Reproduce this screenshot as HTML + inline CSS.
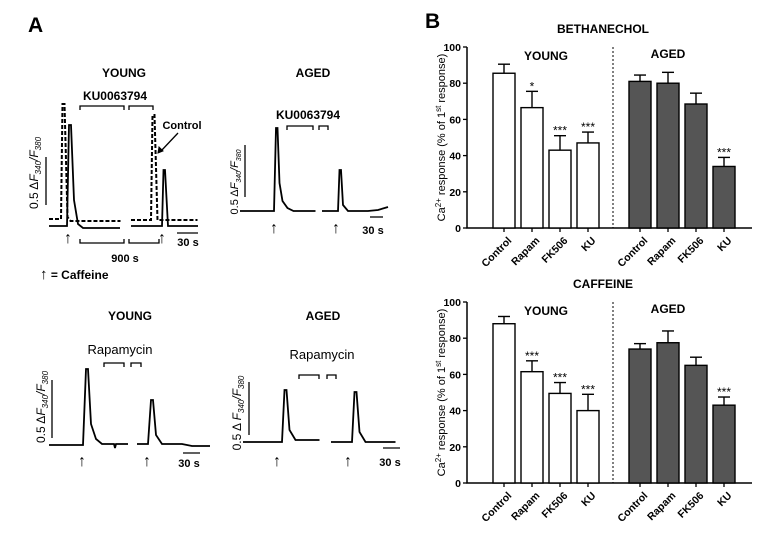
<!DOCTYPE html>
<html><head><meta charset="utf-8">
<style>
html,body{margin:0;padding:0;background:#fff;}
svg{display:block;font-family:"Liberation Sans",Arial,sans-serif;}
.b{font-weight:bold;}
</style></head>
<body>
<svg id="fig" width="771" height="541" viewBox="0 0 771 541" xmlns="http://www.w3.org/2000/svg">
<rect width="771" height="541" fill="#fff"/>
<text x="28" y="32" font-size="21" class="b">A</text>
<g fill="none" stroke="#000">
  <text x="124" y="77" font-size="12" class="b" text-anchor="middle" stroke="none" fill="#000">YOUNG</text>
  <text x="115" y="100" font-size="12" class="b" text-anchor="middle" stroke="none" fill="#000">KU0063794</text>
  <path d="M80,110 v-4 h44 v4 M129,110 v-4 h24 v4" stroke-width="1.3"/>
  <path d="M49,219 h12 l1.5,-115 l2,0 l3,113 l3,4 h50" stroke-width="2" stroke-dasharray="4,2"/>
  <path d="M131,220 h20 l1.5,-105 l2,0 l3,105 h40" stroke-width="2" stroke-dasharray="4,2"/>
  <path d="M49,226 h18 l2,-101 l2,0 l3,75 l4,24 l5,4 h37" stroke-width="1.8"/>
  <path d="M131,226 h31 l1.5,-56 l1.5,0 l3,56 h30" stroke-width="1.8"/>
  <line x1="46" y1="157" x2="46" y2="205" stroke-width="1.3"/>
  <text transform="translate(38,173) rotate(-90)" font-size="12" text-anchor="middle" stroke="none" fill="#000">0.5 Δ<tspan font-style="italic">F</tspan><tspan font-size="8" dy="3" font-style="italic">340</tspan><tspan dy="-3" font-style="italic">/F</tspan><tspan font-size="8" dy="3" font-style="italic">380</tspan></text>
  <line x1="177" y1="233" x2="198" y2="233" stroke-width="1.3"/>
  <text x="188" y="246" font-size="11" class="b" text-anchor="middle" stroke="none" fill="#000">30 s</text>
  <path d="M80,239 v4 h44 v-4 M129,239 v4 h30 v-4" stroke-width="1.3"/>
  <text x="125" y="262" font-size="11" class="b" text-anchor="middle" stroke="none" fill="#000">900 s</text>
  <text x="182" y="129" font-size="11" class="b" text-anchor="middle" stroke="none" fill="#000">Control</text>
  <line x1="178" y1="133" x2="161" y2="151" stroke-width="1.3"/>
  <path d="M158,153 l1,-6 l4,4 z" fill="#000"/>
  <text x="68" y="243" font-size="16" text-anchor="middle" stroke="none" fill="#000">↑</text>
  <text x="162" y="243" font-size="16" text-anchor="middle" stroke="none" fill="#000">↑</text>
  <text x="40" y="279" font-size="12" class="b" stroke="none" fill="#000"><tspan font-weight="normal" font-size="15">↑</tspan> = Caffeine</text>
</g>
<g fill="none" stroke="#000">
  <text x="313" y="77" font-size="12" class="b" text-anchor="middle" stroke="none" fill="#000">AGED</text>
  <text x="308" y="119" font-size="12" class="b" text-anchor="middle" stroke="none" fill="#000">KU0063794</text>
  <path d="M287,130 v-4 h26 v4 M319,130 v-4 h9 v4" stroke-width="1.3"/>
  <path d="M240,211 h34 l2,-83 l1.5,0 l2,55 l3,18 l5,7 l6,3 h22" stroke-width="1.8"/>
  <path d="M322,211 h16 l1.5,-41 l1.5,0 l2,35 l5,6 h20 l10,-1 l10,-3" stroke-width="1.8"/>
  <line x1="245" y1="145" x2="245" y2="197" stroke-width="1.3"/>
  <text transform="translate(238,182) rotate(-90)" font-size="11" text-anchor="middle" stroke="none" fill="#000">0.5 Δ<tspan font-style="italic">F</tspan><tspan font-size="7" dy="3" font-style="italic">340</tspan><tspan dy="-3" font-style="italic">/F</tspan><tspan font-size="7" dy="3" font-style="italic">380</tspan></text>
  <text x="274" y="233" font-size="16" text-anchor="middle" stroke="none" fill="#000">↑</text>
  <text x="336" y="233" font-size="16" text-anchor="middle" stroke="none" fill="#000">↑</text>
  <line x1="370" y1="217" x2="383" y2="217" stroke-width="1.3"/>
  <text x="373" y="234" font-size="11" class="b" text-anchor="middle" stroke="none" fill="#000">30 s</text>
</g>
<g fill="none" stroke="#000">
  <text x="130" y="320" font-size="12" class="b" text-anchor="middle" stroke="none" fill="#000">YOUNG</text>
  <text x="120" y="354" font-size="13" text-anchor="middle" stroke="none" fill="#000">Rapamycin</text>
  <path d="M104,367 v-4 h20 v4 M131,367 v-4 h10 v4" stroke-width="1.3"/>
  <path d="M49,445 h34 l3,-76 l2,0 l3,55 l5,15 l6,5 h12 l1,4 l1,-4 h12" stroke-width="1.8"/>
  <path d="M137,444 h11 l3,-44 l2,0 l3,35 l6,9 h20 l10,2 h18" stroke-width="1.8"/>
  <line x1="52" y1="380" x2="52" y2="438" stroke-width="1.3"/>
  <text transform="translate(45,407) rotate(-90)" font-size="12" text-anchor="middle" stroke="none" fill="#000">0.5 Δ<tspan font-style="italic">F</tspan><tspan font-size="8" dy="3" font-style="italic">340</tspan><tspan dy="-3" font-style="italic">/F</tspan><tspan font-size="8" dy="3" font-style="italic">380</tspan></text>
  <text x="82" y="466" font-size="16" text-anchor="middle" stroke="none" fill="#000">↑</text>
  <text x="147" y="466" font-size="16" text-anchor="middle" stroke="none" fill="#000">↑</text>
  <line x1="183" y1="453" x2="200" y2="453" stroke-width="1.3"/>
  <text x="189" y="467" font-size="11" class="b" text-anchor="middle" stroke="none" fill="#000">30 s</text>
</g>
<g fill="none" stroke="#000">
  <text x="323" y="320" font-size="12" class="b" text-anchor="middle" stroke="none" fill="#000">AGED</text>
  <text x="322" y="359" font-size="13" text-anchor="middle" stroke="none" fill="#000">Rapamycin</text>
  <path d="M299,379 v-4 h20 v4 M327,379 v-4 h9 v4" stroke-width="1.3"/>
  <path d="M243,442 h39 l2.5,-52 l2,0 l3,40 l6,10 h24" stroke-width="1.8"/>
  <path d="M331,442 h21 l2.5,-50 l2,0 l3,40 l6,10 h30" stroke-width="1.8"/>
  <line x1="249" y1="382" x2="249" y2="435" stroke-width="1.3"/>
  <text transform="translate(241,413) rotate(-90)" font-size="12" text-anchor="middle" stroke="none" fill="#000">0.5 Δ <tspan font-style="italic">F</tspan><tspan font-size="8" dy="3" font-style="italic">340</tspan><tspan dy="-3" font-style="italic">/F</tspan><tspan font-size="8" dy="3" font-style="italic">380</tspan></text>
  <text x="277" y="466" font-size="16" text-anchor="middle" stroke="none" fill="#000">↑</text>
  <text x="348" y="466" font-size="16" text-anchor="middle" stroke="none" fill="#000">↑</text>
  <line x1="383" y1="448" x2="400" y2="448" stroke-width="1.3"/>
  <text x="390" y="466" font-size="11" class="b" text-anchor="middle" stroke="none" fill="#000">30 s</text>
</g>
<text x="425" y="28" font-size="21" class="b">B</text>
<g id="charts"></g>
</svg>
<script>
const categories = ["Control","Rapam","FK506","KU"];
const bethYoung = [85.5, 66.5, 43, 47];
const bethYoungErr = [5, 9, 8, 6];
const bethAged = [81, 80, 68.5, 34];
const bethAgedErr = [3.5, 6, 6, 5];
const bethYoungStars = ["", "*", "***", "***"];
const bethAgedStars = ["", "", "", "***"];
const cafYoung = [88, 61.5, 49.5, 40];
const cafYoungErr = [4, 6, 6, 9];
const cafAged = [74, 77.5, 65, 43];
const cafAgedErr = [3, 6.5, 4.5, 4.5];
const cafYoungStars = ["", "***", "***", "***"];
const cafAgedStars = ["", "", "", "***"];
const yTicks = [0, 20, 40, 60, 80, 100];

const NS = "http://www.w3.org/2000/svg";
const root = document.getElementById("charts");
function mk(tag, attrs, parent, text) {
  const e = document.createElementNS(NS, tag);
  for (const k in attrs) e.setAttribute(k, attrs[k]);
  if (text !== undefined) e.textContent = text;
  parent.appendChild(e);
  return e;
}
function drawChart(name, title, y0, young, youngErr, youngStars, aged, agedErr, agedStars) {
  const g = mk("g", {}, root);
  
  
  const axX = 467, axEnd = 752, top = y0 + 47, bot = y0 + 228;
  const yS = v => bot - v / 100 * (bot - top);
  const xY = i => 504 + i * 28;
  const xA = i => 640 + i * 28;
  const bw = 22;
  const t = mk("text", {x: 603, y: y0 + 33, "font-size": 12, "font-weight": "bold", "text-anchor": "middle"}, g, title);
  
  
  const ax = mk("path", {d: `M${axX},${top} V${bot} H${axEnd}`, stroke: "#000", "stroke-width": 1.5, fill: "none"}, g);
  
  
  yTicks.forEach(v => {
    mk("line", {x1: axX - 4, x2: axX, y1: yS(v), y2: yS(v), stroke: "#000", "stroke-width": 1.3}, g);
    const tl = mk("text", {x: axX - 6, y: yS(v) + 4, "font-size": 10.5, "font-weight": "bold", "text-anchor": "end"}, g, v);
    
    
  });
  const yt = mk("text", {transform: `translate(445,${(top + bot) / 2}) rotate(-90)`, "font-size": 11, "text-anchor": "middle"}, g);
  
  
  yt.innerHTML = 'Ca<tspan font-size="8" dy="-4">2+</tspan><tspan dy="4"> response (% of 1</tspan><tspan font-size="8" dy="-4">st</tspan><tspan dy="4"> response)</tspan>';
  const dv = mk("line", {x1: 613, x2: 613, y1: top, y2: bot, stroke: "#000", "stroke-width": 1, "stroke-dasharray": "2,2"}, g);
  
  
  const gy = mk("text", {x: 546, y: top + 13, "font-size": 12, "font-weight": "bold", "text-anchor": "middle"}, g, "YOUNG");
  
  
  const ga = mk("text", {x: 668, y: top + 11, "font-size": 12, "font-weight": "bold", "text-anchor": "middle"}, g, "AGED");
  
  
  function series(vals, errs, stars, xf, fill, grp) {
    vals.forEach((v, i) => {
      const cx = xf(i);
      const eTop = yS(v + errs[i]);
      mk("line", {x1: cx, x2: cx, y1: yS(v), y2: eTop, stroke: "#000", "stroke-width": 1.4}, g);
      mk("line", {x1: cx - 6, x2: cx + 6, y1: eTop, y2: eTop, stroke: "#000", "stroke-width": 1.4}, g);
      const r = mk("rect", {x: cx - bw / 2, y: yS(v), width: bw, height: bot - yS(v), fill: fill, stroke: "#000", "stroke-width": 1.4}, g);
      
      
      mk("line", {x1: cx, x2: cx, y1: bot, y2: bot + 4, stroke: "#000", "stroke-width": 1.3}, g);
      if (stars[i]) {
        const s = mk("text", {x: cx, y: eTop - 1, "font-size": 12, "text-anchor": "middle"}, g, stars[i]);
        
        
      }
      const lx = cx + 3, ly = bot + 8;
      const cl = mk("text", {transform: `translate(${lx},${ly}) rotate(-45)`, "font-size": 10.5, "font-weight": "bold", "text-anchor": "end", dy: "0.7em"}, g, categories[i]);
      
      
    });
  }
  series(young, youngErr, youngStars, xY, "#fff", "young");
  series(aged, agedErr, agedStars, xA, "#555", "aged");
}
drawChart("bethanechol-chart", "BETHANECHOL", 0, bethYoung, bethYoungErr, bethYoungStars, bethAged, bethAgedErr, bethAgedStars);
drawChart("caffeine-chart", "CAFFEINE", 255, cafYoung, cafYoungErr, cafYoungStars, cafAged, cafAgedErr, cafAgedStars);
</script>
</body></html>
